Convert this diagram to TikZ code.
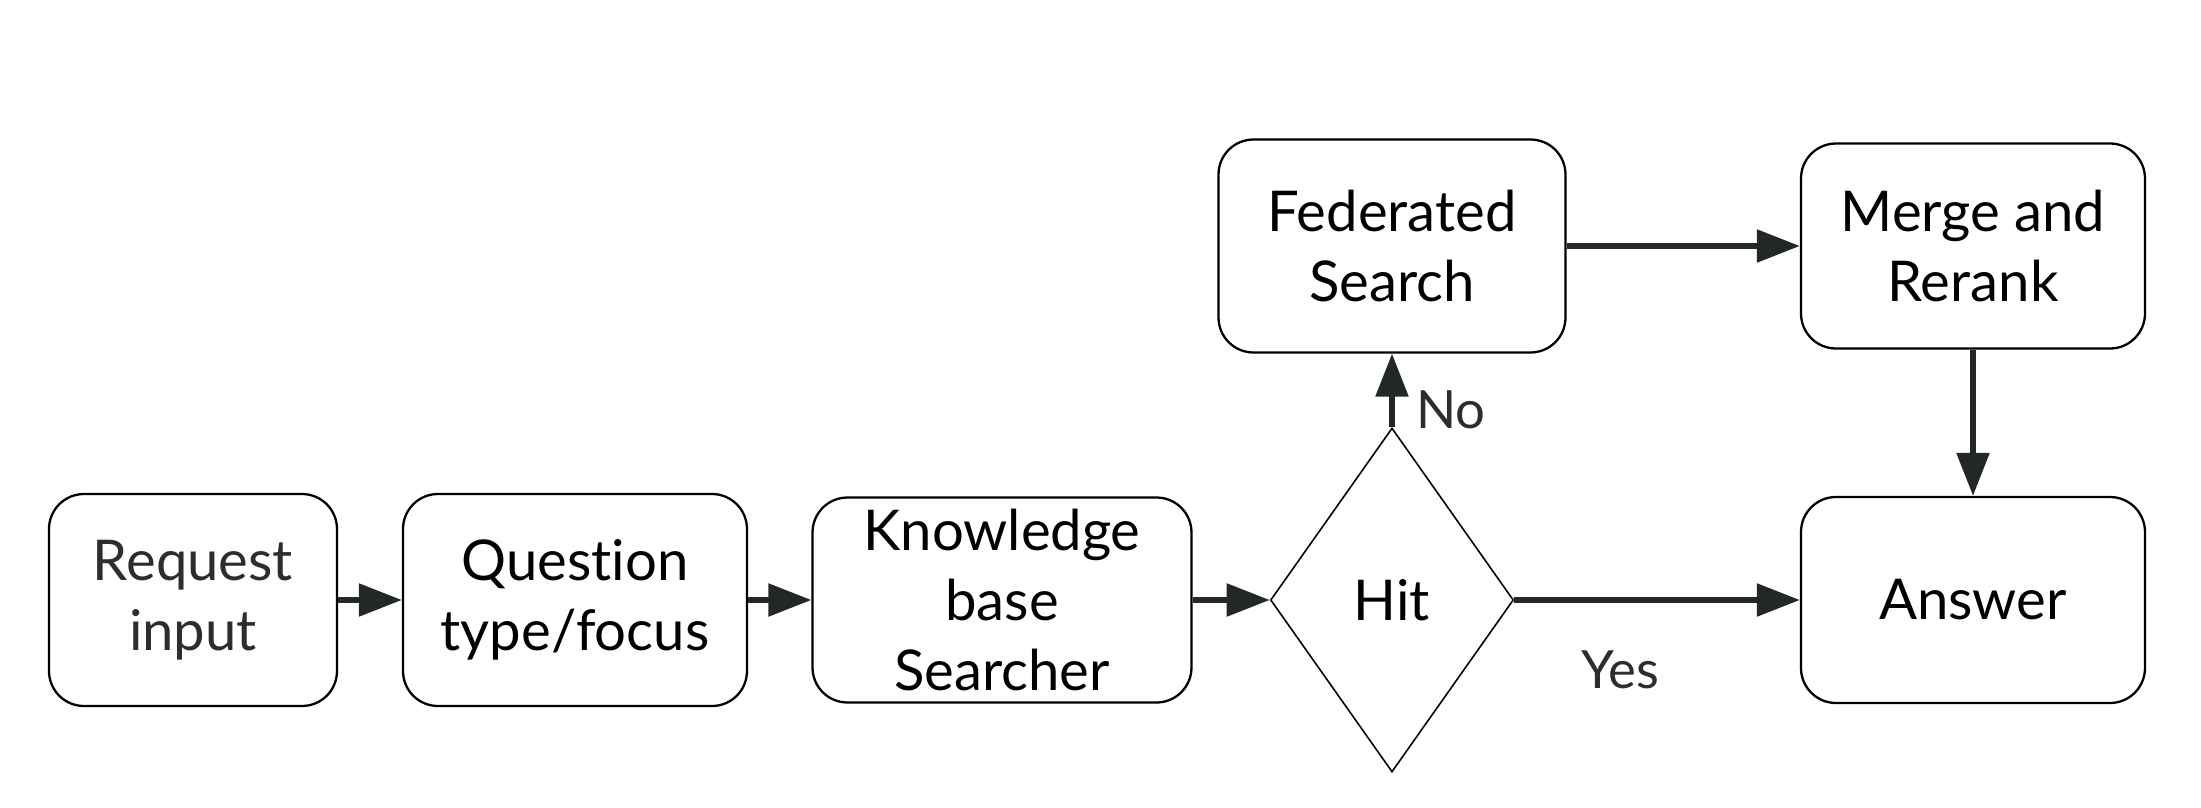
\documentclass[tikz,border=0pt]{standalone}
\usepackage{fontspec}
\setmainfont{Lato}[Ligatures=NoCommon]
\usepackage{tikz}
\usetikzlibrary{arrows.meta,shapes.geometric}

\definecolor{arrowdark}{RGB}{34,40,40}
\definecolor{labelgray}{RGB}{45,45,45}

\tikzset{
  stage/.style={draw, rounded corners=0.35cm, line width=0.65pt, align=center,
    inner sep=0pt, font=\fontsize{16}{20}\selectfont},
  decision/.style={draw, diamond, line width=0.45pt, inner sep=0pt,
    font=\fontsize{16}{20}\selectfont},
  flow/.style={-{Triangle[length=0.43cm,width=0.32cm]}, line width=0.055cm,
    draw=arrowdark},
  branch/.style={font=\fontsize{15}{18}\selectfont, text=labelgray},
}

\begin{document}
\begin{tikzpicture}
  \useasboundingbox (0,0) rectangle (22.01,8.07);
%
  \node [stage, minimum width=2.88cm, minimum height=2.12cm, text=labelgray]
    (req) at (1.93,2.07) {Request\\input} ;
  \node [stage, minimum width=3.44cm, minimum height=2.12cm]
    (qtype) at (5.75,2.07) {Question\\type/focus} ;
  \node [stage, minimum width=3.79cm, minimum height=2.05cm]
    (kb) at (10.02,2.07) {Knowledge\\base\\Searcher} ;
  \node [decision, minimum width=2.43cm, minimum height=3.44cm]
    (hit) at (13.92,2.07) {Hit} ;
  \node [stage, minimum width=3.44cm, minimum height=2.06cm]
    (ans) at (19.73,2.07) {Answer} ;
%
  \node [stage, minimum width=3.47cm, minimum height=2.13cm]
    (fed) at (13.92,5.61) {Federated\\Search} ;
  \node [stage, minimum width=3.44cm, minimum height=2.05cm]
    (merge) at (19.73,5.61) {Merge and\\Rerank} ;
%
  \draw [flow] (req) -- (qtype) ;
  \draw [flow] (qtype) -- (kb) ;
  \draw [flow] (kb) -- (hit) ;
  \draw [flow] (hit) -- (fed) node [branch,pos=0.24,right=0.1cm] {No} ;
  \draw [flow] (hit) -- (ans) node [branch,pos=0.37,yshift=-0.7cm] {Yes} ;
  \draw [flow] (fed) -- (merge) ;
  \draw [flow] (merge) -- (ans) ;
%
\end{tikzpicture}
\end{document}
